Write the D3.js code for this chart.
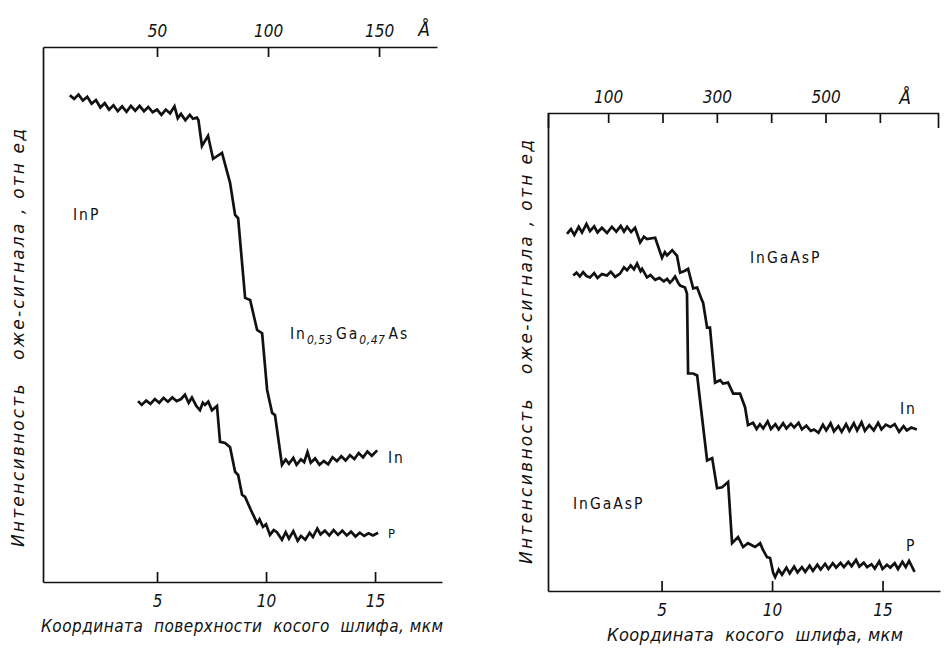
<!DOCTYPE html>
<html>
<head>
<meta charset="utf-8">
<title>Оже-профили</title>
<script src="https://d3js.org/d3.v7.min.js"></script>
<style>
  body { margin: 0; background: #fff; }
  svg text { font-family: "DejaVu Sans Condensed", "DejaVu Sans", sans-serif; fill: #111; }
  .it { font-style: italic; }
  .wide { font-family: "DejaVu Sans", sans-serif; }
  .axis path, .axis line { stroke: #111; stroke-width: 1.7; }
  .axis text { font-size: 17px; font-style: italic; }
  .curve { fill: none; stroke: #111; stroke-width: 2.7; stroke-linejoin: miter; }
  .chem { font-size: 15.5px; letter-spacing: 2px; }
</style>
</head>
<body>
<svg width="946" height="649"></svg>
<script>
// ---- data, x in мкм, y in отн. ед. (0..100 of panel height)
var xTicks = [5, 10, 15];
var leftTopTicks = [50, 100, 150];
var rightTopTicks = [100, 200, 300, 400, 500, 600];
var rightTopLabels = [100, 300, 500];

var leftIn = [[1.0,91.0],[1.2,90.3],[1.4,91.1],[1.6,90.0],[1.8,90.7],[2.0,89.4],[2.2,90.1],[2.4,88.7],[2.6,89.5],[2.8,88.3],[3.0,89.1],[3.2,88.0],[3.4,88.9],[3.6,87.9],[3.8,89.0],[4.0,88.1],[4.2,89.0],[4.4,88.0],[4.6,88.8],[4.8,87.8],[5.0,88.3],[5.2,87.3],[5.4,88.3],[5.6,87.6],[5.8,88.9],[5.95,86.7],[6.1,87.5],[6.3,86.3],[6.5,87.3],[6.65,86.6],[6.83,86.8],[6.9,86.3],[7.06,81.5],[7.34,83.4],[7.57,79.1],[7.98,80.2],[8.35,74.6],[8.58,68.6],[8.72,68.0],[9.04,53.1],[9.27,52.7],[9.59,47.1],[9.82,46.5],[10.05,35.9],[10.28,31.6],[10.41,31.2],[10.73,21.9],[10.9,22.9],[11.05,22.1],[11.25,23.2],[11.4,21.9],[11.6,22.9],[11.75,22.4],[11.9,24.3],[12.05,22.3],[12.25,23.1],[12.45,21.9],[12.65,22.6],[12.85,22.0],[13.05,23.3],[13.25,22.6],[13.45,23.5],[13.65,22.7],[13.85,23.7],[14.05,23.0],[14.25,24.1],[14.45,23.3],[14.65,24.4],[14.85,23.6],[15.1,24.6]];

var leftP = [[4.13,33.8],[4.3,33.1],[4.5,33.9],[4.7,33.3],[4.9,34.2],[5.1,33.5],[5.3,34.4],[5.5,33.7],[5.7,34.5],[5.9,33.8],[6.1,34.2],[6.28,35.0],[6.45,33.5],[6.6,34.5],[6.8,32.9],[6.97,32.1],[7.1,33.5],[7.2,33.1],[7.35,33.7],[7.52,32.1],[7.75,32.9],[7.89,26.2],[8.12,26.0],[8.35,25.2],[8.58,20.6],[8.72,20.0],[8.90,16.3],[9.04,15.9],[9.3,13.5],[9.59,11.0],[9.7,11.7],[9.86,10.3],[10.0,10.8],[10.18,8.8],[10.35,9.7],[10.5,9.3],[10.73,7.9],[10.9,9.3],[11.05,8.1],[11.25,9.5],[11.45,7.7],[11.6,8.6],[11.8,7.9],[12.0,9.2],[12.15,8.4],[12.35,10.0],[12.5,8.9],[12.7,9.6],[12.9,8.7],[13.1,9.7],[13.3,8.8],[13.5,9.6],[13.7,8.7],[13.9,9.4],[14.1,8.5],[14.3,9.2],[14.5,8.6],[14.7,9.1],[14.9,8.7],[15.14,9.2]];

var rightIn = [[0.72,74.7],[0.9,75.7],[1.05,74.5],[1.25,76.2],[1.4,75.0],[1.6,76.8],[1.76,75.3],[1.95,76.3],[2.1,75.0],[2.3,76.0],[2.53,74.9],[2.75,76.2],[2.95,75.2],[3.15,76.4],[3.3,75.2],[3.44,76.2],[3.62,75.1],[3.80,76.0],[4.03,72.9],[4.2,74.1],[4.34,73.6],[4.71,73.9],[5.02,69.7],[5.15,70.9],[5.25,70.2],[5.48,71.3],[5.70,70.1],[5.84,66.6],[6.06,67.0],[6.20,67.4],[6.43,63.3],[6.61,63.5],[6.83,60.8],[6.88,60.3],[7.06,55.1],[7.19,55.1],[7.42,43.6],[7.65,44.1],[7.78,43.4],[8.01,43.6],[8.24,41.3],[8.55,41.3],[8.78,38.4],[8.91,34.7],[9.14,35.2],[9.3,33.9],[9.45,34.9],[9.6,34.0],[9.8,35.5],[9.95,33.9],[10.15,34.9],[10.3,33.8],[10.5,35.1],[10.65,34.0],[10.85,35.0],[11.0,34.2],[11.2,35.2],[11.35,33.8],[11.55,34.6],[11.75,33.5],[11.9,33.8],[12.1,33.1],[12.3,34.8],[12.45,33.6],[12.65,35.1],[12.8,33.4],[13.0,34.5],[13.15,33.3],[13.35,34.9],[13.5,33.5],[13.7,35.1],[13.85,33.6],[14.05,35.3],[14.2,33.5],[14.4,34.7],[14.6,33.6],[14.8,35.2],[14.95,33.8],[15.15,34.8],[15.35,34.3],[15.55,34.9],[15.75,33.3],[15.95,34.5],[16.1,33.6],[16.3,34.2],[16.55,33.8]];

var rightP = [[1.0,66.0],[1.15,66.6],[1.3,65.8],[1.45,66.7],[1.6,65.9],[1.76,65.6],[1.95,66.5],[2.1,65.5],[2.3,66.3],[2.53,66.0],[2.7,66.8],[2.9,65.7],[3.12,66.4],[3.3,67.7],[3.44,67.1],[3.6,68.1],[3.75,67.3],[3.89,68.5],[4.05,66.9],[4.12,67.4],[4.34,65.6],[4.5,66.1],[4.71,65.1],[4.9,65.5],[5.1,64.8],[5.25,65.3],[5.38,64.5],[5.5,65.1],[5.61,65.8],[5.75,64.5],[5.84,63.9],[6.06,63.5],[6.15,62.2],[6.20,45.5],[6.43,45.5],[6.61,45.1],[6.74,39.9],[7.06,27.3],[7.29,27.8],[7.51,21.5],[7.74,21.7],[8.01,22.8],[8.19,10.0],[8.46,11.3],[8.69,9.2],[8.91,10.0],[9.23,9.2],[9.46,10.0],[9.59,8.6],[9.77,7.1],[9.91,6.9],[10.05,3.8],[10.14,2.9],[10.3,4.5],[10.45,3.4],[10.65,4.9],[10.8,3.7],[11.0,5.1],[11.15,3.9],[11.35,5.0],[11.5,4.0],[11.7,5.3],[11.85,4.2],[12.05,5.5],[12.2,4.5],[12.4,5.7],[12.55,4.6],[12.75,5.8],[12.9,4.9],[13.1,5.9],[13.25,5.0],[13.45,6.1],[13.6,5.2],[13.8,6.5],[13.95,5.1],[14.15,5.9],[14.3,5.0],[14.5,5.6],[14.65,4.7],[14.85,6.2],[15.0,4.6],[15.2,5.5],[15.35,4.9],[15.55,5.8],[15.7,4.6],[15.9,6.1],[16.05,5.0],[16.2,6.3],[16.45,4.0]];

var yTitle = "Интенсивность   оже-сигнала , отн ед";
var xTitleLeft = "Координата  поверхности  косого  шлифа, мкм";
var xTitleRight = "Координата  косого  шлифа, мкм";

var svg = d3.select("svg");

// ---- left panel
var xL = d3.scaleLinear().domain([-0.23, 18.07]).range([43, 442]),
	tL = d3.scaleLinear().domain([-1.35, 176.1]).range([43, 437]),
	yL = d3.scaleLinear().domain([0, 100]).range([582, 47]);

// ---- right panel
var xR = d3.scaleLinear().domain([-0.14, 17.6]).range([548, 940]),
	tR = d3.scaleLinear().domain([-10.7, 707]).range([548, 938]),
	yR = d3.scaleLinear().domain([0, 100]).range([591, 113]);

function panel(x, t, y, topTicks, topFmt, hook) {
	svg.append("g").attr("class", "axis")
		.attr("transform", "translate(0," + y(0) + ")")
		.call(d3.axisBottom(x).tickValues(xTicks).tickSizeInner(-10).tickSizeOuter(0).tickPadding(13));

	svg.append("g").attr("class", "axis")
		.attr("transform", "translate(0," + y(100) + ")")
		.call(d3.axisTop(t).tickValues(topTicks).tickFormat(topFmt).tickSizeInner(-10).tickSizeOuter(hook).tickPadding(10));

	svg.append("g").attr("class", "axis")
		.attr("transform", "translate(" + x.range()[0] + ",0)")
		.call(d3.axisLeft(y).tickValues([]).tickSizeOuter(0));

	svg.selectAll(".axis .domain").attr("fill", "none");
}

panel(xL, tL, yL, leftTopTicks, d3.format("d"), 0);
panel(xR, tR, yR, rightTopTicks, function(d) { return rightTopLabels.indexOf(d) >= 0 ? d : ""; }, -15);

var lineL = d3.line().x(function(d) { return xL(d[0]); }).y(function(d) { return yL(d[1]); });
var lineR = d3.line().x(function(d) { return xR(d[0]); }).y(function(d) { return yR(d[1]); });

svg.append("path").attr("class", "curve").attr("d", lineL(leftIn));
svg.append("path").attr("class", "curve").attr("d", lineL(leftP));
svg.append("path").attr("class", "curve").attr("d", lineR(rightIn));
svg.append("path").attr("class", "curve").attr("d", lineR(rightP));

// angstrom marks
svg.append("text").attr("x", 424).attr("y", 36).attr("text-anchor", "middle")
	.attr("class", "it").style("font-size", "19px").text("Å");
svg.append("text").attr("x", 905).attr("y", 104).attr("text-anchor", "middle")
	.attr("class", "it").style("font-size", "19px").text("Å");

// axis titles
svg.append("text").attr("class", "it").attr("x", 242).attr("y", 632)
	.attr("text-anchor", "middle").attr("textLength", 402).style("font-size", "17px")
	.style("white-space", "pre").text(xTitleLeft);
svg.append("text").attr("class", "it").attr("x", 755).attr("y", 641)
	.attr("text-anchor", "middle").attr("textLength", 296).style("font-size", "18px")
	.style("white-space", "pre").text(xTitleRight);

svg.append("text").attr("class", "it wide")
	.attr("transform", "translate(24,338) rotate(-90)")
	.attr("text-anchor", "middle").attr("textLength", 418).style("font-size", "17px")
	.style("white-space", "pre").text(yTitle);
svg.append("text").attr("class", "it wide")
	.attr("transform", "translate(532,352) rotate(-90)")
	.attr("text-anchor", "middle").attr("textLength", 424).style("font-size", "17px")
	.style("white-space", "pre").text(yTitle);

// curve and layer labels
svg.append("text").attr("class", "chem").attr("x", 73).attr("y", 220).text("InP");
var f = svg.append("text").attr("class", "chem").attr("x", 290).attr("y", 339);
f.append("tspan").text("In");
f.append("tspan").attr("class", "it").attr("dy", 5).style("font-size", "12px").style("letter-spacing", "0.5px").text("0,53");
f.append("tspan").attr("dy", -5).attr("dx", 3).text("Ga");
f.append("tspan").attr("class", "it").attr("dy", 5).style("font-size", "12px").style("letter-spacing", "0.5px").text("0,47");
f.append("tspan").attr("dy", -5).attr("dx", 3).text("As");
svg.append("text").attr("class", "chem").attr("x", 388).attr("y", 463).text("In");
svg.append("text").attr("class", "chem").attr("x", 388).attr("y", 538).style("font-size", "13px").text("P");

svg.append("text").attr("class", "chem").attr("x", 750).attr("y", 263).text("InGaAsP");
svg.append("text").attr("class", "chem").attr("x", 900).attr("y", 414).text("In");
svg.append("text").attr("class", "chem").attr("x", 573).attr("y", 509).text("InGaAsP");
svg.append("text").attr("class", "chem").attr("x", 906).attr("y", 551).text("P");
</script>
</body>
</html>
